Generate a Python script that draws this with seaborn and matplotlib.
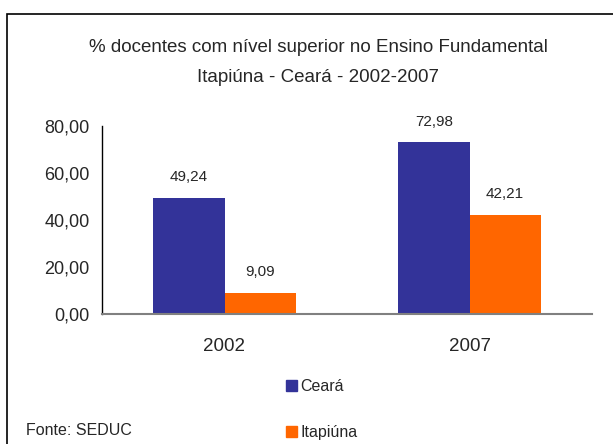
import pandas as pd
import matplotlib.pyplot as plt
import matplotlib.patches as mpatches
import seaborn as sns

# -----------------------------
# Data
# -----------------------------
years = ["2002", "2007"]
ceara = [49.24, 72.98]
itapiuna = [9.09, 42.21]
series = ["Ceará", "Itapiúna"]
colors = ["#333399", "#FF6600"]
y_ticks = [0, 20, 40, 60, 80]

df = pd.DataFrame({
    "ano": years * 2,
    "valor": ceara + itapiuna,
    "serie": [series[0]] * len(years) + [series[1]] * len(years),
})

# -----------------------------
# Plot
# -----------------------------
sns.set_style("white")
plt.rcParams["font.family"] = ["Liberation Sans", "DejaVu Sans"]

fig = plt.figure(figsize=(6.13, 4.44), dpi=100)
ax = fig.add_axes([102 / 613, 1 - 314 / 444, 490 / 613, 188 / 444])

sns.barplot(data=df, x="ano", y="valor", hue="serie", palette=colors,
            width=0.58, saturation=1, linewidth=0, ax=ax, legend=False)

for cont in ax.containers:
    ax.bar_label(cont, labels=[f"{v:.2f}".replace(".", ",") for v in cont.datavalues],
                 padding=10, fontsize=11)

ax.set_ylim(0, 80)
ax.set_xlim(-0.5, 1.5)
ax.set_yticks(y_ticks)
ax.set_yticklabels([f"{v:.2f}".replace(".", ",") for v in y_ticks], fontsize=13)
ax.set_xticks([-0.5, 0.5, 1.5])
ax.set_xticklabels([])
ax.set_xticks([0, 1], labels=years, minor=True)
ax.tick_params(axis="x", which="minor", length=0, labelsize=13.5, pad=17)
ax.tick_params(axis="x", which="major", direction="out", length=5, color="black", width=1)
ax.tick_params(axis="y", direction="out", length=5, width=1, pad=4)
ax.set_xlabel("")
ax.set_ylabel("")

for side in ["top", "right"]:
    ax.spines[side].set_visible(False)
ax.spines["left"].set_color("black")
ax.spines["left"].set_linewidth(1)
ax.spines["bottom"].set_color("#808080")
ax.spines["bottom"].set_linewidth(1.5)

fig.text(318 / 613, 1 - 47 / 444, "% docentes com nível superior no Ensino Fundamental",
         ha="center", va="center", fontsize=13.5)
fig.text(318 / 613, 1 - 77 / 444, "Itapiúna - Ceará - 2002-2007",
         ha="center", va="center", fontsize=13.5)
fig.text(26 / 613, 1 - 430 / 444, "Fonte: SEDUC", ha="left", va="center", fontsize=11.5)

handles = [mpatches.Patch(color=c, label=s) for c, s in zip(colors, series)]
fig.legend(handles=handles, loc="upper left", bbox_to_anchor=(278 / 613, 1 - 371 / 444),
           frameon=False, fontsize=11.5, labelspacing=1.95, handlelength=0.7,
           handleheight=0.7, handletextpad=0.2, borderpad=0)

fig.patches.append(mpatches.Rectangle((7 / 613, -0.2), 1.2, 1.2 - 14 / 444,
                                      transform=fig.transFigure, fill=False,
                                      edgecolor="black", linewidth=1.2))

fig.savefig("out.png", dpi=100)
